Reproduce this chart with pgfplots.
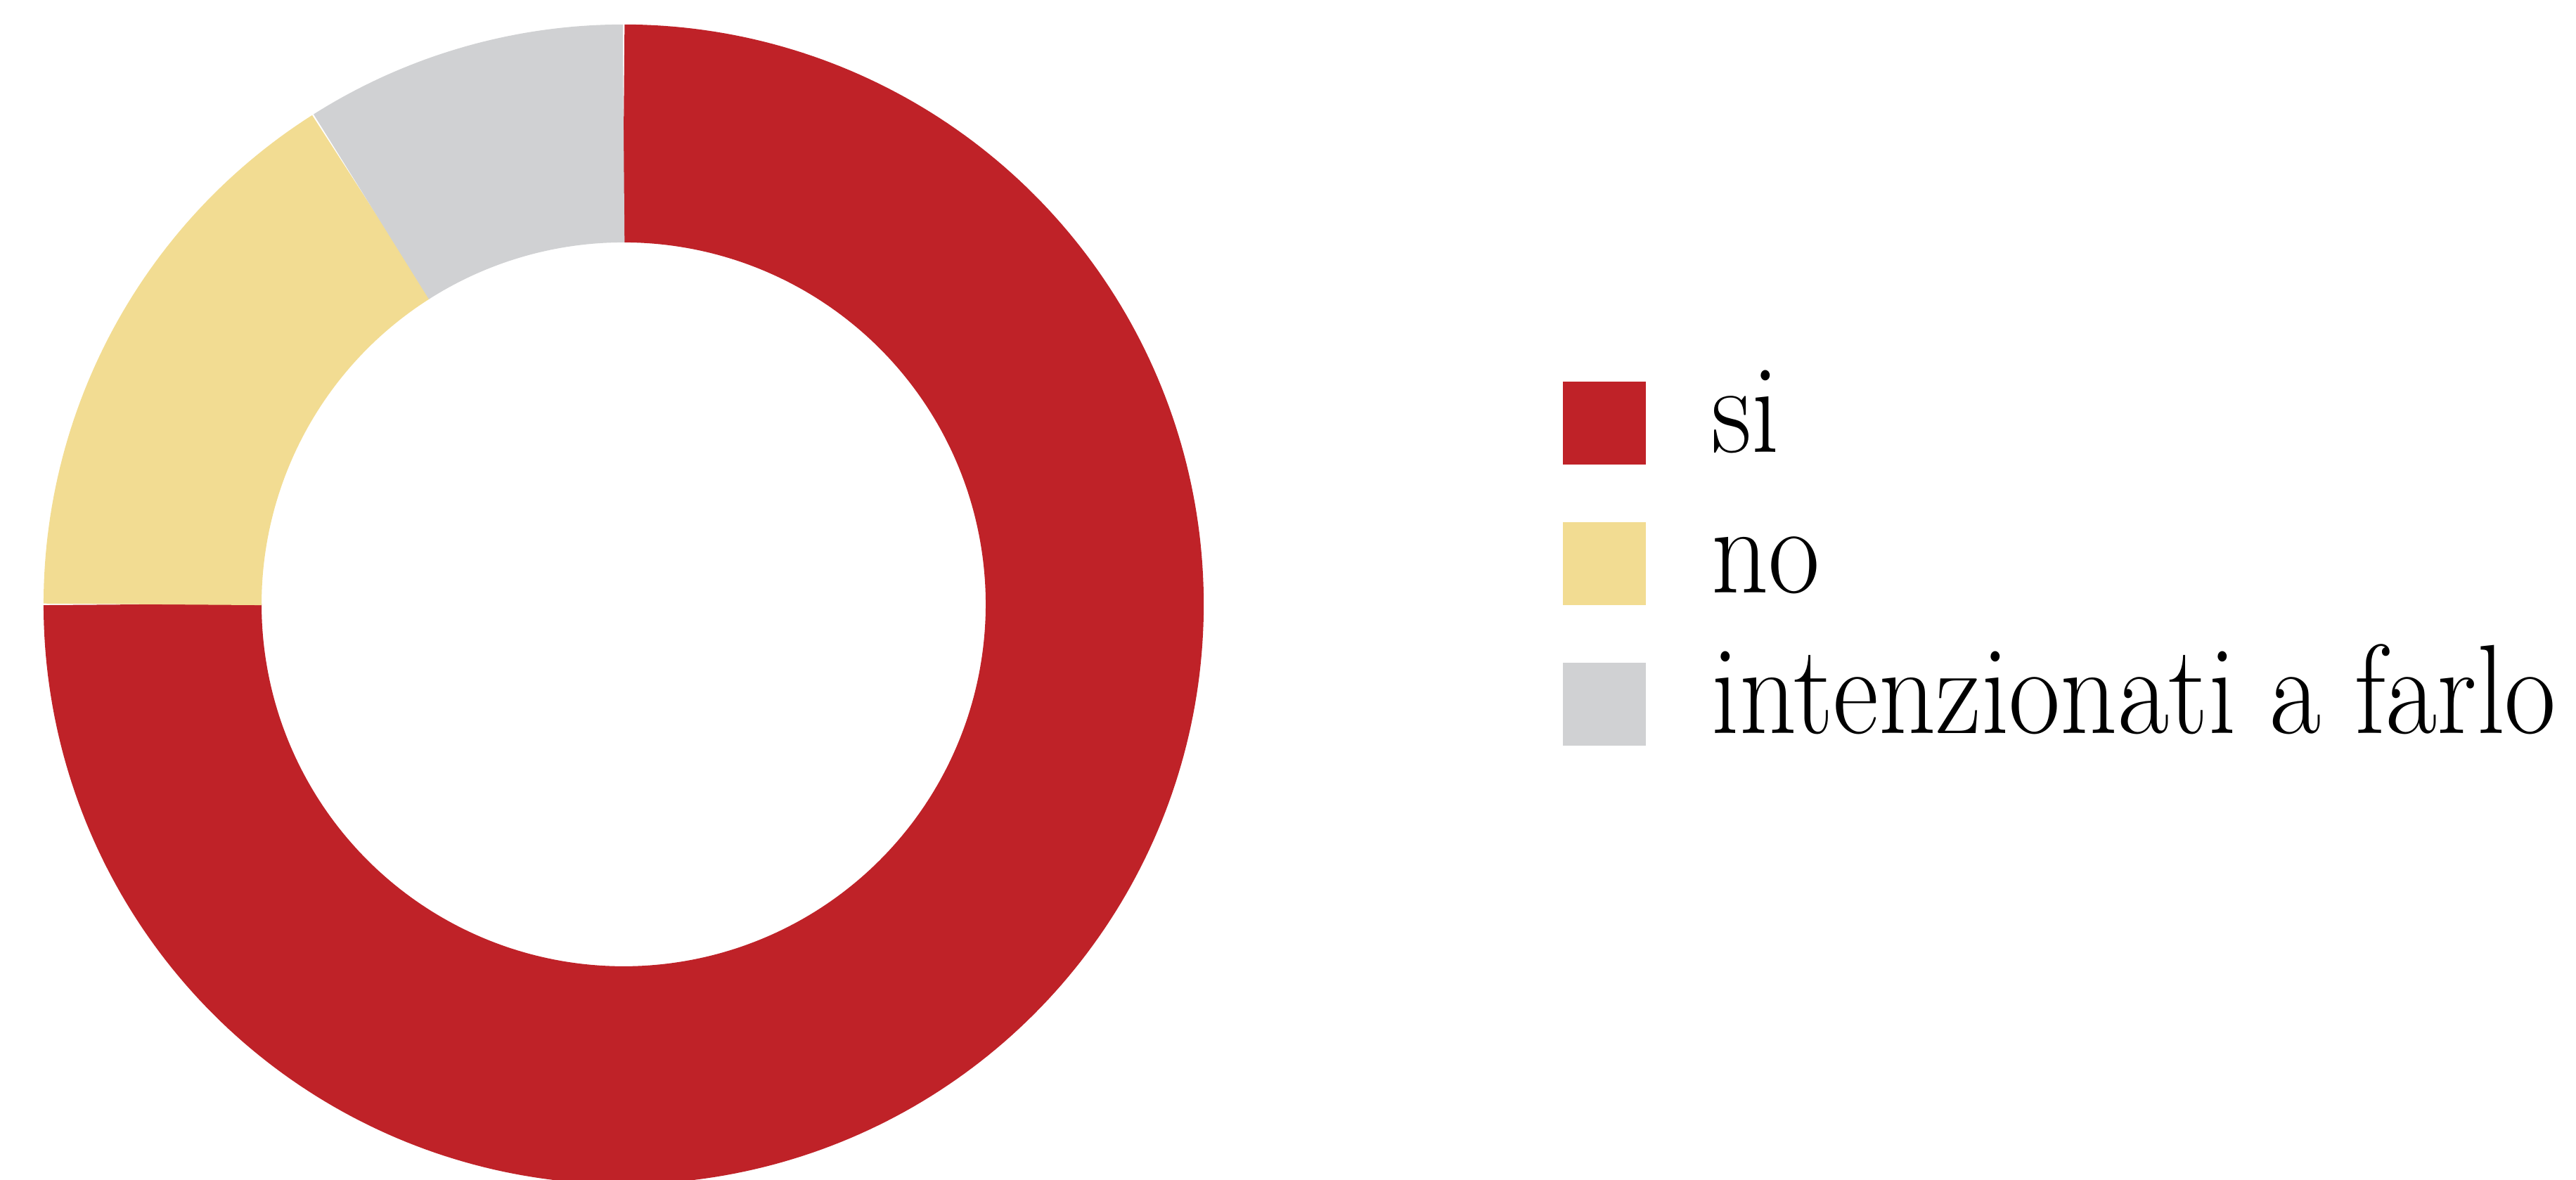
\documentclass[border=0pt]{standalone}
\usepackage{fontspec}
\usepackage{graphicx}
\usepackage{pgfplots}
\pgfplotsset{compat=1.18}
\definecolor{cSi}{HTML}{BF2228}
\definecolor{cNo}{HTML}{F2DC92}
\definecolor{cInt}{HTML}{D0D1D3}
% data (percent)
\def\vsi{75}
\def\vno{16}
\def\vint{9}
% geometry of the ring (cm)
\def\rmid{2.8675}
\def\ringw{1.327cm}
\pgfmathsetmacro\aA{90}
\pgfmathsetmacro\aB{\aA-3.6*\vsi}
\pgfmathsetmacro\aC{\aB-3.6*\vno}
\pgfmathsetmacro\aD{\aC-3.6*\vint}
\newcommand{\lt}[1]{\scalebox{0.88}[1]{#1}}
\begin{document}
\begin{tikzpicture}
\begin{axis}[
  x=1cm, y=1cm,
  xmin=-3.796, xmax=11.884,
  ymin=-3.505, ymax=3.680,
  axis line style={draw=none},
  ticks=none,
  clip=true,
  legend cell align=left,
  legend style={
    draw=none, fill=none, inner sep=0pt, outer sep=0pt,
    at={(axis cs:5.716,1.496)}, anchor=north west,
    font=\fontsize{22}{26}\selectfont,
    cells={anchor=base west, inner sep=0pt},
    column sep=0.33cm,
    row sep={0.856cm,between origins},
  },
]
\addplot[draw=cSi, line width=\ringw, domain=\aB:\aA, samples=271,
  legend image code/.code={\path[fill=cSi, draw=none] (0cm,-0.075cm) rectangle (0.506cm,0.431cm);}]
  ({\rmid*cos(x)},{\rmid*sin(x)});
\addlegendentry{\lt{si}}
\addplot[draw=cNo, line width=\ringw, domain=\aC:\aB, samples=60,
  legend image code/.code={\path[fill=cNo, draw=none] (0cm,-0.075cm) rectangle (0.506cm,0.431cm);}]
  ({\rmid*cos(x)},{\rmid*sin(x)});
\addlegendentry{\lt{no}}
\addplot[draw=cInt, line width=\ringw, domain=\aD:\aC, samples=40,
  legend image code/.code={\path[fill=cInt, draw=none] (0cm,-0.075cm) rectangle (0.506cm,0.431cm);}]
  ({\rmid*cos(x)},{\rmid*sin(x)});
\addlegendentry{\lt{intenzionati a farlo}}
\end{axis}
\end{tikzpicture}
\end{document}
